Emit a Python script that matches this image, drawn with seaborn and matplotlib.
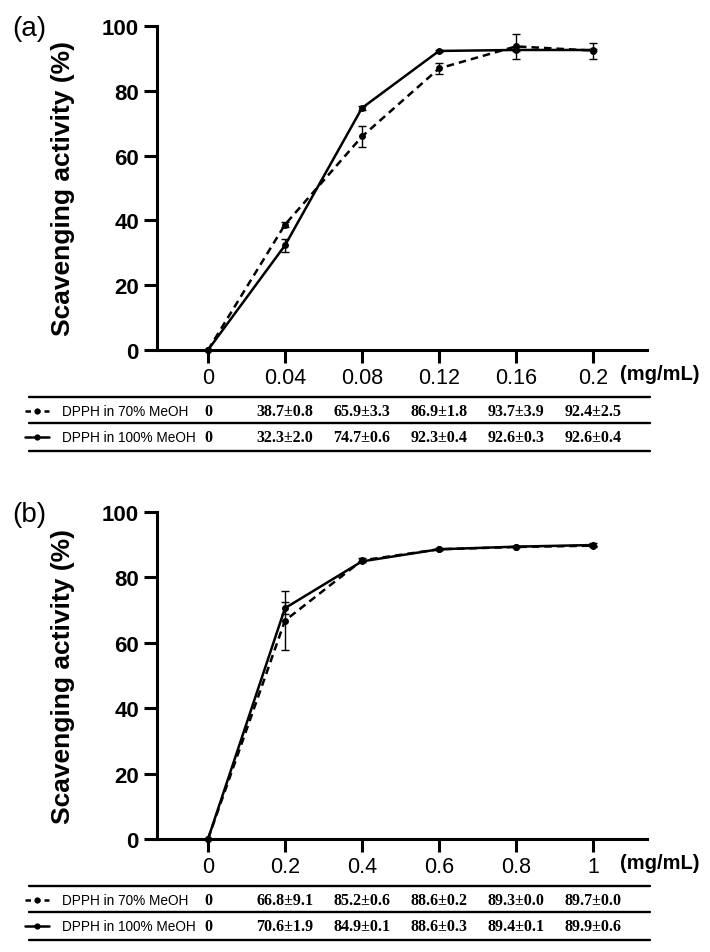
import numpy as np
import pandas as pd
import matplotlib
matplotlib.use("Agg")
import matplotlib.pyplot as plt
import matplotlib.transforms as mtransforms
from matplotlib.lines import Line2D
import seaborn as sns

# ---------------- data ----------------
conc_a = [0, 0.04, 0.08, 0.12, 0.16, 0.2]
tick_labels_a = ["0", "0.04", "0.08", "0.12", "0.16", "0.2"]
meoh70_a = [0, 38.7, 65.9, 86.9, 93.7, 92.4]
meoh70_a_sd = [0, 0.8, 3.3, 1.8, 3.9, 2.5]
meoh100_a = [0, 32.3, 74.7, 92.3, 92.6, 92.6]
meoh100_a_sd = [0, 2.0, 0.6, 0.4, 0.3, 0.4]

conc_b = [0, 0.2, 0.4, 0.6, 0.8, 1.0]
tick_labels_b = ["0", "0.2", "0.4", "0.6", "0.8", "1"]
meoh70_b = [0, 66.8, 85.2, 88.6, 89.3, 89.7]
meoh70_b_sd = [0, 9.1, 0.6, 0.2, 0.0, 0.0]
meoh100_b = [0, 70.6, 84.9, 88.6, 89.4, 89.9]
meoh100_b_sd = [0, 1.9, 0.1, 0.3, 0.1, 0.6]

series_names = ["DPPH in 70% MeOH", "DPPH in 100% MeOH"]
y_ticks = [0, 20, 40, 60, 80, 100]

# ---------------- style ----------------
sns.set_theme(style="ticks")
plt.rcParams["font.family"] = ["Liberation Sans", "DejaVu Sans"]
plt.rcParams["text.color"] = "black"
plt.rcParams["axes.labelcolor"] = "black"
plt.rcParams["xtick.color"] = "black"
plt.rcParams["ytick.color"] = "black"
plt.rcParams["xtick.labelcolor"] = "black"
plt.rcParams["ytick.labelcolor"] = "black"

W, H = 710, 953
fig = plt.figure(figsize=(W / 100, H / 100), dpi=100)
fig.patch.set_facecolor("white")


def fx(px):
    return px / W


def fy(py):
    return 1 - py / H


DASH = (3.0, 2.0)
LW = 1.8
MS = 5


def fmt(m, s):
    if m == 0 and s == 0:
        return "0"
    return f"{m:.1f}\u00b1{s:.1f}"


def panel(top_px, bottom_px, conc, labels, m70, s70, m100, s100, letter):
    left_px, right_px = 157, 647
    ax = fig.add_axes([fx(left_px), fy(bottom_px), fx(right_px - left_px),
                       (bottom_px - top_px) / H])
    step = conc[1] - conc[0]
    px_per_unit = 77 / step
    ax.set_xlim(conc[0] - (208 - left_px) / px_per_unit,
                conc[0] + (right_px - 208) / px_per_unit)
    ax.set_ylim(0, 100)

    df = pd.DataFrame({
        "conc": conc * 2,
        "value": m70 + m100,
        "series": [series_names[0]] * len(conc) + [series_names[1]] * len(conc),
    })
    sns.lineplot(data=df, x="conc", y="value", style="series",
                 dashes={series_names[0]: DASH, series_names[1]: ""},
                 markers={series_names[0]: "o", series_names[1]: "o"},
                 color="black", linewidth=LW, markersize=MS,
                 markeredgewidth=0, legend=False, ax=ax)
    for ln in ax.lines:
        ln.set_clip_on(False)
    ax.errorbar(conc, m70, yerr=s70, fmt="none", ecolor="black",
                elinewidth=1.0, capsize=2.6, capthick=1.0, clip_on=False)
    ax.errorbar(conc, m100, yerr=s100, fmt="none", ecolor="black",
                elinewidth=1.0, capsize=2.6, capthick=1.0, clip_on=False)

    for side in ["top", "right"]:
        ax.spines[side].set_visible(False)
    for side in ["left", "bottom"]:
        ax.spines[side].set_linewidth(2.2)
        ax.spines[side].set_color("black")
    ax.set_xticks(conc)
    ax.set_xticklabels(labels, fontsize=15.5, color="black")
    ax.set_yticks(y_ticks)
    ax.set_yticklabels([str(t) for t in y_ticks], fontsize=16, fontweight="bold",
                       color="black")
    ax.tick_params(axis="both", direction="out", length=9.5, width=2.2,
                   color="black")
    ax.tick_params(axis="x", pad=3)
    ax.tick_params(axis="y", pad=3.5)
    ax.set_xlabel("")
    ax.set_ylabel("Scavenging activity (%)", fontsize=19, fontweight="bold",
                  color="black")
    ax.yaxis.set_label_coords((75 - left_px) / (right_px - left_px), 0.5)
    ax.set_facecolor("white")
    ax.grid(False)

    # panel letter and units
    fig.text(fx(12), fy(top_px + 2), letter, fontsize=20, ha="left", va="center",
             color="black")
    fig.text(fx(620), fy(bottom_px + 24), "(mg/mL)", fontsize=14.5,
             fontweight="bold", ha="left", va="center", color="black")

    # table under the axis
    lines_px = [bottom_px + 47, bottom_px + 73, bottom_px + 101]
    rows_px = [bottom_px + 61, bottom_px + 87]
    for lp in lines_px:
        fig.add_artist(Line2D([fx(29), fx(650)], [fy(lp), fy(lp)],
                              transform=fig.transFigure, color="black", lw=1.7))
    trans = mtransforms.blended_transform_factory(ax.transData, fig.transFigure)
    for ri, (means, sds) in enumerate([(m70, s70), (m100, s100)]):
        ry = fy(rows_px[ri])
        for xv, m, s in zip(conc, means, sds):
            ax.text(xv, ry, fmt(m, s), transform=trans, ha="center", va="center",
                    fontsize=11.5, fontweight="bold", color="black",
                    family=["Liberation Serif", "DejaVu Serif"], clip_on=False)
        fig.text(fx(62), ry, series_names[ri], fontsize=9.8, ha="left",
                 va="center", color="black")
        h = Line2D([fx(25), fx(37), fx(49)], [ry, ry, ry], transform=fig.transFigure,
                   color="black", lw=LW, marker="o", markersize=4.5,
                   markevery=[1], markeredgewidth=0)
        if ri == 0:
            h.set_dashes((2.2, 1.6))
        fig.add_artist(h)
    return ax


panel(27, 351, conc_a, tick_labels_a, meoh70_a, meoh70_a_sd,
      meoh100_a, meoh100_a_sd, "(a)")
panel(513, 840, conc_b, tick_labels_b, meoh70_b, meoh70_b_sd,
      meoh100_b, meoh100_b_sd, "(b)")

fig.savefig("out.png", dpi=100, facecolor="white")
